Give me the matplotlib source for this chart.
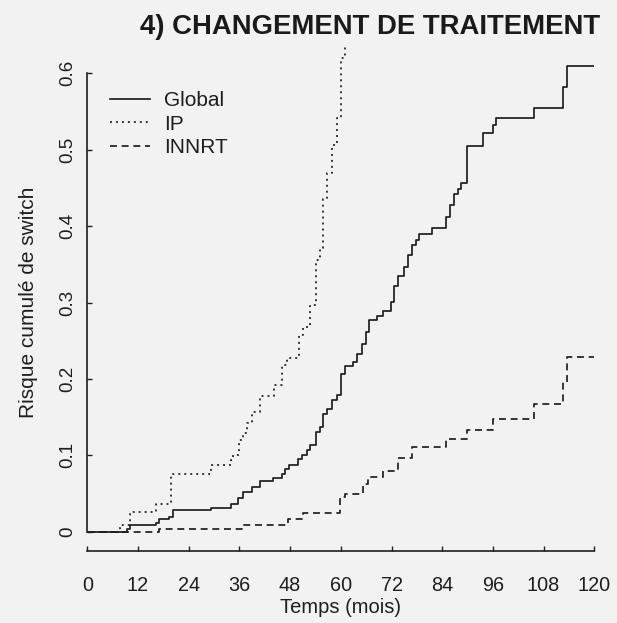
import matplotlib
matplotlib.use("Agg")
import matplotlib.pyplot as plt

# ---------------- data ----------------
global_t = [0, 9.3, 10.1, 16.2, 17, 19.3, 20.4, 29.2, 34.1, 35.7, 36.9, 38.9, 40.9, 44.0,
            46.0, 46.8, 47.8, 49.9, 50.7, 51.9, 52.7, 54.1, 55.0, 55.9, 56.8, 57.8, 59.0,
            60.0, 61.0, 62.8, 63.8, 65.0, 65.9, 66.7, 68.6, 69.9, 71.8, 72.7, 73.6, 75.0,
            75.8, 76.8, 77.7, 78.6, 81.7, 84.9, 85.8, 86.8, 87.7, 88.4, 89.9, 93.6, 96.0,
            96.7, 105.8, 112.7, 113.6, 120]
global_v = [0, 0.003, 0.0088, 0.012, 0.016, 0.0196, 0.029, 0.031, 0.036, 0.044, 0.052, 0.059,
            0.066, 0.070, 0.076, 0.082, 0.087, 0.095, 0.101, 0.107, 0.113, 0.131, 0.137, 0.154,
            0.161, 0.172, 0.179, 0.206, 0.217, 0.222, 0.233, 0.246, 0.262, 0.277, 0.282, 0.289,
            0.301, 0.322, 0.335, 0.347, 0.362, 0.375, 0.382, 0.390, 0.397, 0.412, 0.428, 0.442,
            0.449, 0.457, 0.505, 0.522, 0.532, 0.542, 0.554, 0.582, 0.610, 0.610]

ip_t = [0, 7.7, 10.1, 16.2, 19.8, 29.2, 34.1, 34.6, 35.9, 36.9, 37.9, 39.1, 40.9, 44.2, 46.2,
        47.2, 50.1, 51.0, 52.7, 54.1, 55.1, 55.9, 56.8, 57.8, 59.2, 60.0, 61.0]
ip_v = [0, 0.0088, 0.026, 0.036, 0.076, 0.087, 0.094, 0.100, 0.120, 0.129, 0.142, 0.157,
        0.177, 0.192, 0.218, 0.228, 0.258, 0.268, 0.297, 0.356, 0.371, 0.436, 0.469, 0.506,
        0.541, 0.620, 0.660]

innrt_t = [0, 17, 36.7, 47.6, 51, 59.8, 61, 65.3, 66.4, 70, 73.6, 76.8, 84.9, 89.8, 96,
           105.8, 112.7, 113.6, 120]
innrt_v = [0, 0.0035, 0.0088, 0.016, 0.025, 0.046, 0.050, 0.062, 0.072, 0.079, 0.096, 0.111,
           0.121, 0.133, 0.148, 0.167, 0.196, 0.229, 0.229]

labels = ["Global", "IP", "INNRT"]
x_ticks = [0, 12, 24, 36, 48, 60, 72, 84, 96, 108, 120]
y_ticks = [0, 0.1, 0.2, 0.3, 0.4, 0.5, 0.6]
y_ticklabels = ["0", "0.1", "0.2", "0.3", "0.4", "0.5", "0.6"]
title = "4) CHANGEMENT DE TRAITEMENT"
xlabel = "Temps (mois)"
ylabel = "Risque cumulé de switch"

# ---------------- style ----------------
plt.rcParams["font.family"] = ["Liberation Sans", "DejaVu Sans"]
plt.rcParams["lines.scale_dashes"] = False
BG = "#f2f2f2"
INK = "#1e1e1e"

W, H = 617, 623
fig = plt.figure(figsize=(W / 100, H / 100), dpi=100, facecolor=BG)

x0_px, x1_px = 87.3, 594.3
ybot_px, ytop_px = 551.0, 44.0
zero_px, scale = 531.7, 764.0
ax = fig.add_axes([x0_px / W, 1 - ybot_px / H, (x1_px - x0_px) / W, (ybot_px - ytop_px) / H])
ax.set_facecolor(BG)
ax.set_xlim(0, 120)
ax.set_ylim((zero_px - ybot_px) / scale, (zero_px - ytop_px) / scale)

lw = 1.25
ax.step(global_t, global_v, where="post", color=INK, lw=lw, linestyle="-", label=labels[0])
ax.step(ip_t, ip_v, where="post", color=INK, lw=lw, linestyle=(0, (1.4, 2.9)), label=labels[1])
ax.step(innrt_t, innrt_v, where="post", color=INK, lw=lw, linestyle=(0, (5.0, 3.4)), label=labels[2])

for s in ["top", "right"]:
    ax.spines[s].set_visible(False)
ax.spines["left"].set_bounds(0, 0.6)
ax.spines["bottom"].set_bounds(0, 120)
for s in ["left", "bottom"]:
    ax.spines[s].set_color(INK)
    ax.spines[s].set_linewidth(1.2)

ax.set_xticks(x_ticks)
ax.set_xticklabels([str(v) for v in x_ticks])
ax.set_yticks(y_ticks)
ax.set_yticklabels(y_ticklabels)
ax.tick_params(axis="both", direction="in", length=3.6, width=1.0, color=INK, labelcolor=INK)
ax.tick_params(axis="x", labelsize=14.3, pad=18)
ax.tick_params(axis="y", labelsize=13.5, pad=8, labelrotation=90)
for lab in ax.get_yticklabels():
    lab.set_verticalalignment("center")

ax.set_xlabel(xlabel, fontsize=14.5, color=INK)
ax.xaxis.set_label_coords(0.5, -0.093)
ax.set_ylabel(ylabel, fontsize=15, color=INK)
ax.yaxis.set_label_coords(-0.098, (ybot_px - 302.5) / (ybot_px - ytop_px))

leg = ax.legend(loc="upper left", bbox_to_anchor=(110 / W, 1 - 91 / H),
                bbox_transform=fig.transFigure, frameon=False, fontsize=15,
                handlelength=1.9, handletextpad=0.7, labelspacing=0.22,
                borderpad=0, borderaxespad=0)
for t in leg.get_texts():
    t.set_color(INK)

fig.text(600 / W, 1 - 34.3 / H, title, ha="right", va="baseline",
         fontsize=19.8, fontweight="bold", color="#1a1a1a")

fig.savefig("out.png", dpi=100, facecolor=BG)
